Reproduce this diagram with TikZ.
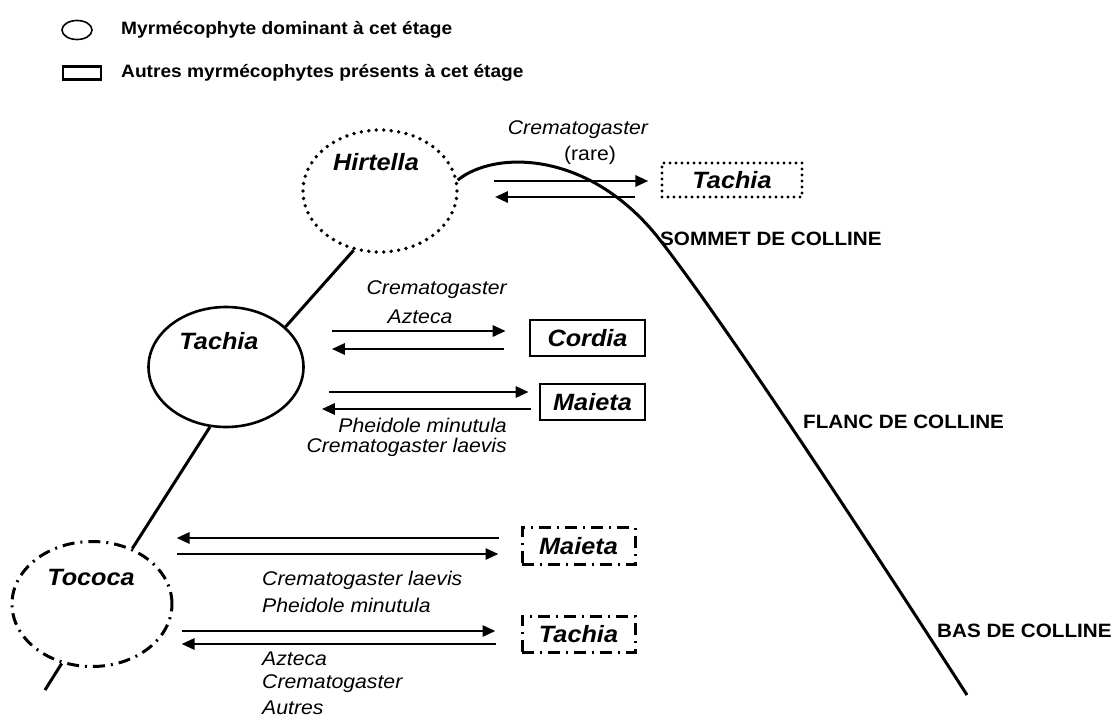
\documentclass[tikz,border=0pt]{standalone}
\usepackage{fontspec}
\setmainfont{Liberation Sans}
\usetikzlibrary{arrows.meta,shapes.geometric,calc}

\newcommand{\etir}[1]{\scalebox{1.07}[1]{#1}}

\tikzset{
  fleche/.style={line width=2.8pt,-{Triangle[length=13pt,width=11pt]}},
  colline/.style={line width=3pt},
  dominant/.style={ellipse,draw,line width=2.6pt,inner sep=0pt},
  autre/.style={rectangle,draw,line width=2.6pt,inner sep=0pt,font=\fontsize{23.6}{26}\selectfont\bfseries\itshape},
  pointille/.style={line cap=round,dash pattern=on 0pt off 7.5pt,line width=3.8pt},
  tiretpoint/.style={dash pattern=on 12pt off 6pt on 2pt off 6pt,line width=3pt},
  espece/.style={font=\fontsize{19.8}{23}\selectfont\itshape,inner sep=0pt},
  nom/.style={font=\fontsize{23.6}{26}\selectfont\bfseries\itshape,inner sep=0pt},
  niveau/.style={font=\fontsize{19.3}{23}\selectfont\bfseries,inner sep=0pt,anchor=west},
  legende/.style={font=\fontsize{17.9}{21}\selectfont\bfseries,inner sep=0pt,anchor=west},
}

\begin{document}
\begin{tikzpicture}[x=1pt,y=-1pt] % image coordinates, y down
  \useasboundingbox (0,0) rectangle (1115,720);

  % legende
  \node[dominant,line width=1.6pt,minimum width=30pt,minimum height=19pt] (legEllipse) at (77,30) {};
  \node[legende] (legDominant) at (121,30) {\etir{Myrmécophyte dominant à cet étage}};
  \node[draw,line width=2.2pt,minimum width=38pt,minimum height=13pt,inner sep=0pt] (legRect) at (82,73) {};
  \node[legende] (legAutres) at (121,73) {\etir{Autres myrmécophytes présents à cet étage}};

  % myrmecophytes dominants
  \node[dominant,pointille,minimum width=154pt,minimum height=122pt] (hirtella) at (380,191) {};
  \node[nom] (hirtellaNom) at (376,162) {\etir{Hirtella}};
  \node[dominant,minimum width=155pt,minimum height=120pt] (tachia) at (226,367) {};
  \node[nom] (tachiaNom) at (219,341) {\etir{Tachia}};
  \node[dominant,tiretpoint,minimum width=160pt,minimum height=125pt] (tococa) at (92,604) {};
  \node[nom] (tococaNom) at (91,577) {\etir{Tococa}};

  % profil de la colline
  \coordinate (piedColline) at (45,690);
  \coordinate (baseColline) at (967,695);
  \draw[colline] (hirtella.8) .. controls (495,150) and (590,150) .. (660,240)
    .. controls (730,330) and (880,560) .. (baseColline);
  \draw[colline] (hirtella.246) -- (tachia.34);
  \draw[colline] (tachia.255) -- (tococa.54);
  \draw[colline] (tococa.243) -- (piedColline);

  \node[niveau] (sommet) at (660,239) {\etir{SOMMET DE COLLINE}};
  \node[niveau] (flanc) at (803,422) {\etir{FLANC DE COLLINE}};
  \node[niveau] (bas) at (937,631) {\etir{BAS DE COLLINE}};

  % autres myrmecophytes
  \node[autre,pointille,line width=3.2pt,dash pattern=on 0pt off 6pt,minimum width=140pt,minimum height=34pt] (tachiaHaut) at (732,180) {\etir{Tachia}};
  \node[autre,minimum width=115pt,minimum height=36pt] (cordia) at (587.5,338) {\etir{Cordia}};
  \node[autre,minimum width=105pt,minimum height=36pt] (maieta) at (592.5,402) {\etir{Maieta}};
  \node[autre,tiretpoint,minimum width=113pt,minimum height=37pt] (maietaBas) at (578.5,546) {\etir{Maieta}};
  \node[autre,tiretpoint,minimum width=113pt,minimum height=36pt] (tachiaBas) at (578.5,634) {\etir{Tachia}};

  % sommet
  \draw[fleche] ($(hirtella.east)+(35,-10)$) -- ($(tachiaHaut.west)+(-12,1)$);
  \draw[fleche] ($(tachiaHaut.west)+(-25,17)$) -- ($(hirtella.east)+(36,6)$);
  \node[espece] (cremaHaut) at (578,130) {\etir{Crematogaster}};
  \node[espece,font=\fontsize{19.8}{23}\selectfont] (rare) at (590,155) {\etir{(rare)}};

  % flanc
  \draw[fleche] ($(tachia.east)+(27,-36)$) -- ($(cordia.west)+(-23,-7)$);
  \draw[fleche] ($(cordia.west)+(-25,11)$) -- ($(tachia.east)+(27,-18)$);
  \node[espece,anchor=east] (cremaFlanc) at (507,290) {\etir{Crematogaster}};
  \node[espece] (aztecaFlanc) at (420,317) {\etir{Azteca}};
  \draw[fleche] ($(tachia.east)+(24,25)$) -- ($(maieta.west)+(-10,-10)$);
  \draw[fleche] ($(maieta.west)+(-8,7)$) -- ($(tachia.east)+(17,42)$);
  \node[espece,anchor=east] (pheidoleFlanc) at (507,425) {\etir{Pheidole minutula}};
  \node[espece,anchor=east] (laevisFlanc) at (507,447) {\etir{Crematogaster laevis}};

  % bas
  \draw[fleche] ($(maietaBas.west)+(-22,-8)$) -- ($(tococa.east)+(3,-66)$);
  \draw[fleche] ($(tococa.east)+(3,-50)$) -- ($(maietaBas.west)+(-22,8)$);
  \node[espece,anchor=west] (laevisBas) at (262,580) {\etir{Crematogaster laevis}};
  \node[espece,anchor=west] (pheidoleBas) at (262,605) {\etir{Pheidole minutula}};
  \draw[fleche] ($(tococa.east)+(8,27)$) -- ($(tachiaBas.west)+(-25,-3)$);
  \draw[fleche] ($(tachiaBas.west)+(-25,10)$) -- ($(tococa.east)+(8,40)$);
  \node[espece,anchor=west] (aztecaBas) at (262,659) {\etir{Azteca}};
  \node[espece,anchor=west] (cremaBas) at (262,684) {\etir{Crematogaster}};
  \node[espece,anchor=west] (autresBas) at (262,708) {\etir{Autres}};
\end{tikzpicture}
\end{document}
